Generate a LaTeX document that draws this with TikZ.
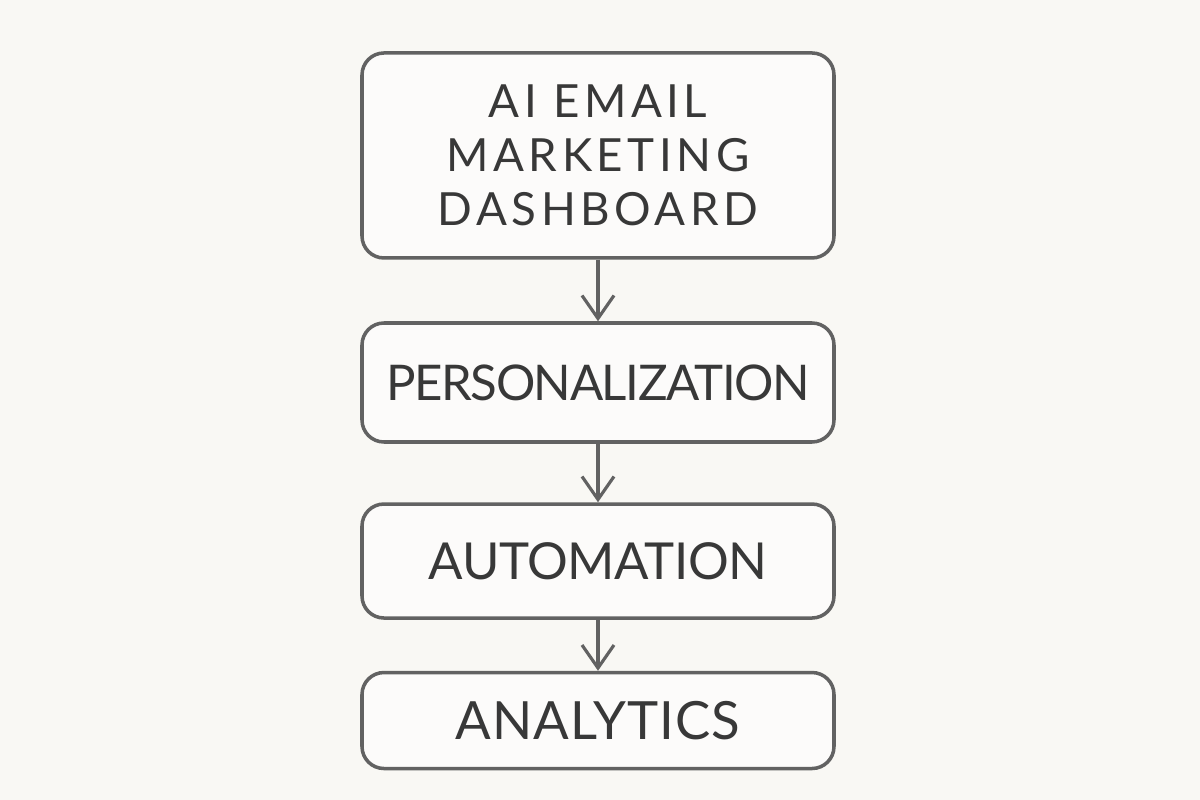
\documentclass[tikz,border=0pt]{standalone}
\usepackage{fontspec}
\setmainfont{Lato}
\usetikzlibrary{arrows.meta, positioning}
\definecolor{paper}{HTML}{F9F8F4}
\definecolor{pencil}{HTML}{626262}
\definecolor{ink}{HTML}{383838}
\tikzset{
>={Straight Barb[length=2.3mm,width=3.2mm]}, % open pencil arrow heads
box/.style={draw=pencil, line width=1pt, rounded corners=2.2mm, fill=paper!50!white,
  minimum width=4.72cm, text=ink, align=center},
lbl/.style 2 args={font=\fontsize{#1}{15.4}\selectfont\addfontfeatures{LetterSpace=#2}},
link/.style={->, draw=pencil, line width=0.9pt},
}

\begin{document}
\begin{tikzpicture}
  \fill[paper] (0,0) rectangle (12,8);
  \useasboundingbox (0,0) rectangle (12,8);
  \node[box, lbl={13}{10}, minimum height=2.05cm] (dash) at (5.98,6.445) {AI EMAIL\\MARKETING\\DASHBOARD};
  \node[box, lbl={14}{-3}, minimum height=1.19cm, below=0.615cm of dash] (pers) {PERSONALIZATION};
  \node[box, lbl={14.5}{-1}, minimum height=1.14cm, below=0.585cm of pers] (auto) {AUTOMATION};
  \node[box, lbl={15}{2}, minimum height=0.96cm, below=0.51cm of auto] (anal) {ANALYTICS};

  \path[link]
  (dash) edge (pers)
  (pers) edge (auto)
  (auto) edge (anal);
\end{tikzpicture}
\end{document}
